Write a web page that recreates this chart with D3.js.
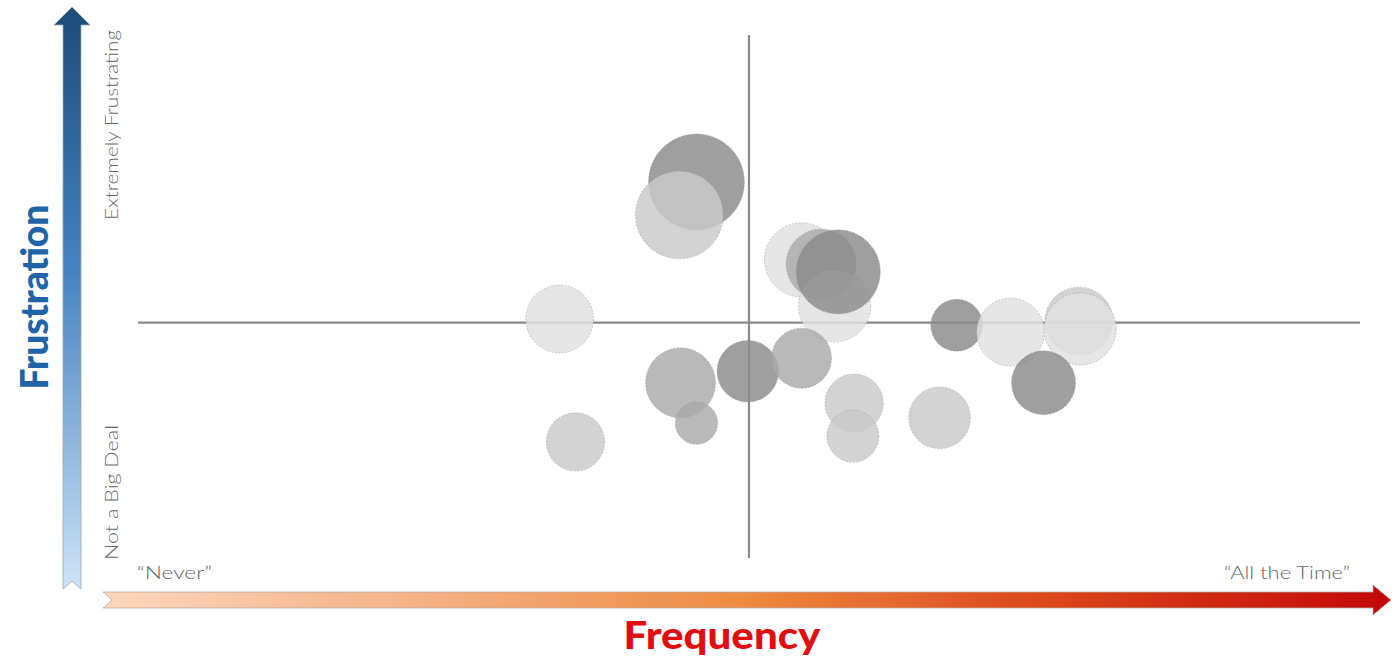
<!DOCTYPE html>
<html><head><meta charset="utf-8">
<script src="https://cdn.jsdelivr.net/npm/d3@7"></script>
<style>html,body{margin:0;padding:0;background:#fff;}svg{display:block;}</style>
</head><body>
<div id="chart"></div>
<script>
// ---- data ----
const bubbleX    = [-0.43, -0.57, 0.43, 0.59, 0.70, 0.73, -1.55, -0.56, -0.43, -0.01, 0.43, -1.42, 1.70, 2.14, 2.70, 2.71, 2.41, 1.56, 0.86, 0.85];
const bubbleY    = [ 2.69,  2.06, 1.20, 1.12, 0.32, 0.97,  0.07, -1.15, -1.92, -0.93, -0.68, -2.28, -0.05, -0.18, 0.03, -0.12, -1.15, -1.82, -1.54, -2.17];
const bubbleSize = [ 92,    77,   55,   49,   52,   71,    46,    49,    18,    38,    36,    34,    27,    46,    46,   52,    41,    38,    34,    27];
const bubbleTone = ["dark","light","pale","medium","pale","dark","pale","medium","medium","dark","medium","light","dark","pale","light","pale","dark","light","light","light"];
const xEnds = ["\u201CNever\u201D", "\u201CAll the Time\u201D"];
const yEnds = ["Not  a  Big Deal", "Extremely Frustrating"];
const xTitle = "Frequency";
const yTitle = "Frustration";

const W = 1396, H = 658;
const svg = d3.select("#chart").append("svg").attr("width", W).attr("height", H);
const defs = svg.append("defs");

const x = d3.scaleLinear().domain([-5, 5]).range([138, 1360]);
const y = d3.scaleLinear().domain([-4.5, 5.5]).range([558, 35]);
const r = d3.scaleSqrt().domain([0, 100]).range([0, 50]);
const tone = d3.scaleOrdinal().domain(["dark","medium","light","pale"]).range(["#8a8a8a","#aaaaaa","#c9c9c9","#e0e0e0"]);

// gradients
const gv = defs.append("linearGradient").attr("id","gv").attr("x1",0).attr("y1",0).attr("x2",0).attr("y2",1);
[["0%","#1c4b78"],["45%","#4682c0"],["100%","#cfe3f5"]].forEach(s=>gv.append("stop").attr("offset",s[0]).attr("stop-color",s[1]));
const gh = defs.append("linearGradient").attr("id","gh").attr("x1",0).attr("y1",0).attr("x2",1).attr("y2",0);
[["0%","#fbd6bb"],["25%","#f4b084"],["50%","#ed8a40"],["72%","#dc4a1c"],["100%","#c20808"]].forEach(s=>gh.append("stop").attr("offset",s[0]).attr("stop-color",s[1]));

// vertical arrow
svg.append("path")
  .attr("d","M63,589 L63,25 L54,25 L72,7 L90,25 L81,25 L81,589 L72,581 Z")
  .attr("fill","url(#gv)").attr("stroke","#9aa6b2").attr("stroke-width",0.8);
// horizontal arrow
svg.append("path")
  .attr("d","M103,592 L1373,592 L1373,585 L1391,600 L1373,615 L1373,608 L103,608 L112,600 Z")
  .attr("fill","url(#gh)").attr("stroke","#b8a8a0").attr("stroke-width",0.8);

// quadrant lines
svg.append("line").attr("x1",x(0)).attr("x2",x(0)).attr("y1",y(5.5)).attr("y2",y(-4.5))
  .attr("stroke","#8a8a8a").attr("stroke-width",2.2);
svg.append("line").attr("x1",x(-5)).attr("x2",x(5)).attr("y1",y(0)).attr("y2",y(0))
  .attr("stroke","#8a8a8a").attr("stroke-width",2.2);

// bubbles
const data = bubbleX.map((v,i)=>({x:v,y:bubbleY[i],s:bubbleSize[i],t:bubbleTone[i]}));
svg.append("g").selectAll("circle").data(data).join("circle")
  .attr("cx",d=>x(d.x)).attr("cy",d=>y(d.y)).attr("r",d=>r(d.s))
  .attr("fill",d=>tone(d.t)).attr("fill-opacity",0.82)
  .attr("stroke","#9a9a9a").attr("stroke-width",0.7).attr("stroke-dasharray","2,1.5").attr("stroke-opacity",0.7);

// titles
svg.append("text").attr("transform","translate(48,297) rotate(-90)")
  .attr("text-anchor","middle").attr("font-family","Lato, sans-serif").attr("font-weight",900)
  .attr("font-size",37).attr("fill","#1f64a8")
  .attr("textLength",185).attr("lengthAdjust","spacingAndGlyphs").text(yTitle);
svg.append("text").attr("x",722).attr("y",649)
  .attr("text-anchor","middle").attr("font-family","Lato, sans-serif").attr("font-weight",900)
  .attr("font-size",37).attr("fill","#e00e0e")
  .attr("textLength",197).attr("lengthAdjust","spacingAndGlyphs").text(xTitle);

// end labels
const small = {"font-family":"Lato, sans-serif","font-size":18,"fill":"#666","font-weight":300,"lengthAdjust":"spacingAndGlyphs"};
function applyAttrs(sel,o){Object.entries(o).forEach(([k,v])=>sel.attr(k,v));return sel;}
applyAttrs(svg.append("text").attr("transform","translate(118,560) rotate(-90)").attr("text-anchor","start").attr("textLength",135),small).text(yEnds[0]);
applyAttrs(svg.append("text").attr("transform","translate(118,220) rotate(-90)").attr("text-anchor","start").attr("textLength",190),small).text(yEnds[1]);
applyAttrs(svg.append("text").attr("x",137).attr("y",579).attr("text-anchor","start").attr("textLength",75),small).text(xEnds[0]);
applyAttrs(svg.append("text").attr("x",1224).attr("y",579).attr("text-anchor","start").attr("textLength",126),small).text(xEnds[1]);
</script>
</body></html>
